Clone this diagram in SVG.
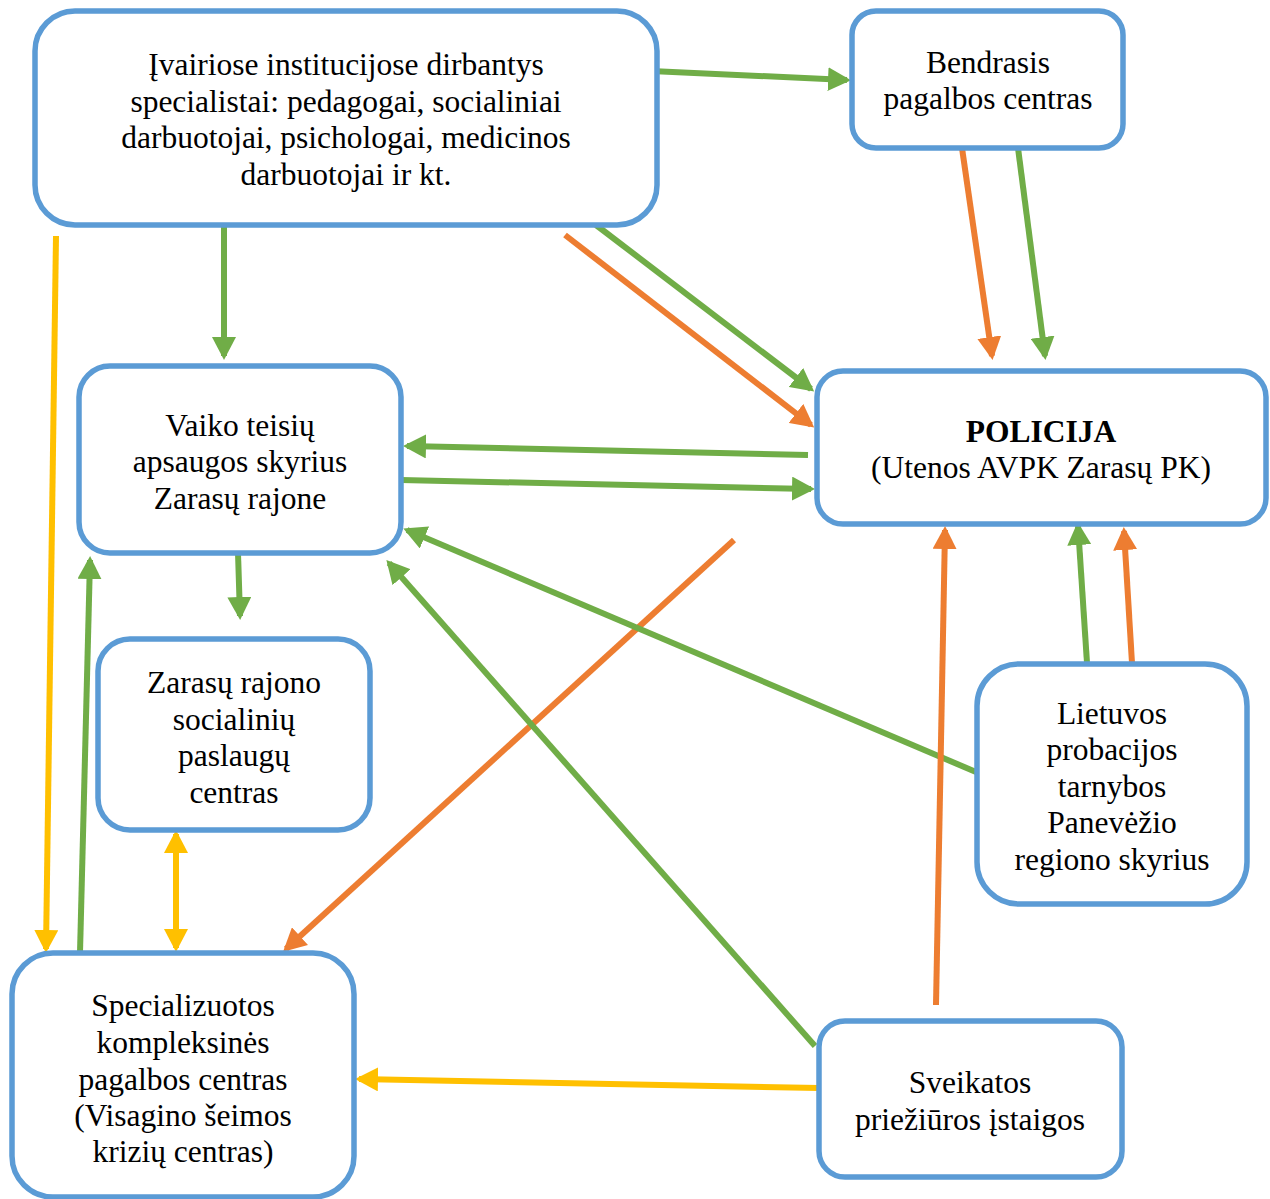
<svg xmlns="http://www.w3.org/2000/svg" width="1270" height="1199" viewBox="0 0 1270 1199">
<style>
.box{fill:#fff;stroke:#5B9BD5;stroke-width:5.5}
.t{font-family:"Liberation Serif","Times New Roman",serif;font-size:31.5px;fill:#000;text-anchor:middle}
.b{font-weight:bold}
.c{fill:none;stroke-width:6}
.g{stroke:#70AD47}
.o{stroke:#ED7D31}
.y{stroke:#FFC000}
</style>
<defs>
<marker id="ag" viewBox="0 0 23 24" markerUnits="userSpaceOnUse" markerWidth="23" markerHeight="24" refX="19" refY="12" orient="auto"><path d="M0,0L23,12L0,24Z" fill="#70AD47"/></marker>
<marker id="ao" viewBox="0 0 23 24" markerUnits="userSpaceOnUse" markerWidth="23" markerHeight="24" refX="19" refY="12" orient="auto"><path d="M0,0L23,12L0,24Z" fill="#ED7D31"/></marker>
<marker id="ay" viewBox="0 0 23 24" markerUnits="userSpaceOnUse" markerWidth="23" markerHeight="24" refX="19" refY="12" orient="auto"><path d="M0,0L23,12L0,24Z" fill="#FFC000"/></marker>
<marker id="ays" viewBox="0 0 23 24" markerUnits="userSpaceOnUse" markerWidth="23" markerHeight="24" refX="4" refY="12" orient="auto"><path d="M23,0L0,12L23,24Z" fill="#FFC000"/></marker>
</defs>
<g id="connectors">
<line class="c g" x1="651" y1="71" x2="847" y2="80" marker-end="url(#ag)"/>
<line class="c o" x1="962" y1="148" x2="992" y2="356" marker-end="url(#ao)"/>
<line class="c g" x1="1018" y1="148" x2="1045" y2="356" marker-end="url(#ag)"/>
<line class="c g" x1="596" y1="225" x2="811" y2="389" marker-end="url(#ag)"/>
<line class="c o" x1="565" y1="235" x2="811" y2="425" marker-end="url(#ao)"/>
<line class="c g" x1="224" y1="225" x2="224" y2="356" marker-end="url(#ag)"/>
<line class="c y" x1="56" y1="236" x2="46" y2="949" marker-end="url(#ay)"/>
<line class="c g" x1="808" y1="455" x2="407" y2="446" marker-end="url(#ag)"/>
<line class="c g" x1="401" y1="480" x2="811" y2="489" marker-end="url(#ag)"/>
<line class="c g" x1="238" y1="553" x2="240" y2="616" marker-end="url(#ag)"/>
<line class="c o" x1="734" y1="540" x2="286" y2="949" marker-end="url(#ao)"/>
<line class="c g" x1="976" y1="772" x2="407" y2="530" marker-end="url(#ag)"/>
<line class="c g" x1="815" y1="1046" x2="389" y2="563" marker-end="url(#ag)"/>
<line class="c o" x1="936" y1="1005" x2="945" y2="530" marker-end="url(#ao)"/>
<line class="c g" x1="1087" y1="663" x2="1078" y2="526" marker-end="url(#ag)"/>
<line class="c o" x1="1132" y1="663" x2="1124" y2="531" marker-end="url(#ao)"/>
<line class="c y" x1="176" y1="834" x2="176" y2="948" marker-start="url(#ays)" marker-end="url(#ay)"/>
<line class="c g" x1="80" y1="953" x2="90" y2="560" marker-end="url(#ag)"/>
<line class="c y" x1="819" y1="1088" x2="359" y2="1079" marker-end="url(#ay)"/>
</g>
<g id="n1">
<rect class="box" x="35" y="11" width="622" height="214" rx="40"/>
<text class="t" x="346" y="75">Įvairiose institucijose dirbantys</text>
<text class="t" x="346" y="112">specialistai: pedagogai, socialiniai</text>
<text class="t" x="346" y="148">darbuotojai, psichologai, medicinos</text>
<text class="t" x="346" y="185">darbuotojai ir kt.</text>
</g>
<g id="n2">
<rect class="box" x="852" y="11" width="271" height="137" rx="24"/>
<text class="t" x="988" y="73">Bendrasis</text>
<text class="t" x="988" y="109">pagalbos centras</text>
</g>
<g id="n3">
<rect class="box" x="817" y="371" width="449" height="153" rx="26"/>
<text class="t b" x="1041" y="442">POLICIJA</text>
<text class="t" x="1041" y="478">(Utenos AVPK Zarasų PK)</text>
</g>
<g id="n4">
<rect class="box" x="79" y="366" width="322" height="187" rx="31"/>
<text class="t" x="240" y="436">Vaiko teisių</text>
<text class="t" x="240" y="472">apsaugos skyrius</text>
<text class="t" x="240" y="509">Zarasų rajone</text>
</g>
<g id="n5">
<rect class="box" x="98" y="639" width="272" height="191" rx="32"/>
<text class="t" x="234" y="693">Zarasų rajono</text>
<text class="t" x="234" y="730">socialinių</text>
<text class="t" x="234" y="766">paslaugų</text>
<text class="t" x="234" y="803">centras</text>
</g>
<g id="n6">
<rect class="box" x="977" y="664" width="270" height="240" rx="42"/>
<text class="t" x="1112" y="724">Lietuvos</text>
<text class="t" x="1112" y="760">probacijos</text>
<text class="t" x="1112" y="797">tarnybos</text>
<text class="t" x="1112" y="833">Panevėžio</text>
<text class="t" x="1112" y="870">regiono skyrius</text>
</g>
<g id="n7">
<rect class="box" x="12" y="953" width="342" height="244" rx="41"/>
<text class="t" x="183" y="1016">Specializuotos</text>
<text class="t" x="183" y="1053">kompleksinės</text>
<text class="t" x="183" y="1090">pagalbos centras</text>
<text class="t" x="183" y="1126">(Visagino šeimos</text>
<text class="t" x="183" y="1162">krizių centras)</text>
</g>
<g id="n8">
<rect class="box" x="819" y="1021" width="303" height="156" rx="26"/>
<text class="t" x="970" y="1093">Sveikatos</text>
<text class="t" x="970" y="1130">priežiūros įstaigos</text>
</g>
</svg>
